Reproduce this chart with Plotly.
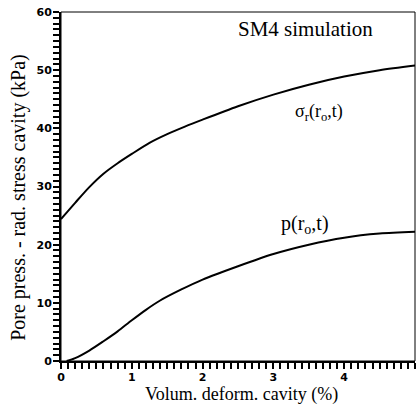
import plotly.graph_objects as go

# Data
x_sigma = [0.0, 0.2, 0.4, 0.6, 0.8, 1.0, 1.25, 1.5, 1.75, 2.0, 2.5, 3.0, 3.5, 4.0, 4.5, 5.0]
y_sigma = [24.4, 27.2, 29.9, 32.2, 34.0, 35.6, 37.5, 39.0, 40.3, 41.5, 43.8, 45.8, 47.5, 48.9, 50.0, 50.8]

x_p = [0.08, 0.2, 0.4, 0.6, 0.8, 1.0, 1.2, 1.4, 1.7, 2.0, 2.5, 3.0, 3.5, 4.0, 4.5, 5.0]
y_p = [0.0, 0.5, 1.8, 3.4, 5.1, 7.0, 8.8, 10.4, 12.3, 14.0, 16.3, 18.4, 20.0, 21.2, 21.9, 22.2]

x_ticks = [0, 1, 2, 3, 4, 5]
y_ticks = [0, 10, 20, 30, 40, 50, 60]

x_title = "Volum. deform. cavity (%)"
y_title = "Pore press. - rad. stress cavity (kPa)"
sim_label = "SM4 simulation"
sigma_label = "σ<sub>r</sub>(r<sub>o</sub>,t)"
p_label = "p(r<sub>o</sub>,t)"

serif = "Liberation Serif"

fig = go.Figure()
fig.add_trace(go.Scatter(x=x_sigma, y=y_sigma, mode="lines",
                         line=dict(color="black", width=2, shape="spline", smoothing=0.8), showlegend=False))
fig.add_trace(go.Scatter(x=x_p, y=y_p, mode="lines",
                         line=dict(color="black", width=2, shape="spline", smoothing=0.8), showlegend=False))

fig.add_annotation(x=3.45, y=57.1, text=sim_label, showarrow=False, font=dict(family=serif, size=21, color="black"))
fig.add_annotation(x=3.64, y=42.8, text=sigma_label, showarrow=False, font=dict(family=serif, size=18, color="black"))
fig.add_annotation(x=3.45, y=23.5, text=p_label, showarrow=False, font=dict(family=serif, size=20, color="black"))

# axis titles placed as paper annotations
fig.add_annotation(xref="paper", yref="paper", x=0.511, y=-0.097, xanchor="center", yanchor="middle",
                   text=x_title, showarrow=False, font=dict(family=serif, size=18, color="black"))
fig.add_annotation(xref="paper", yref="paper", x=-0.119, y=0.47, xanchor="center", yanchor="middle",
                   text=y_title, showarrow=False, textangle=-90, font=dict(family=serif, size=20, color="black"))

# thin frame on top/right
fig.add_shape(type="rect", xref="paper", yref="paper", x0=0, y0=0, x1=1, y1=1, line=dict(color="black", width=1))

tickfont = dict(family="DejaVu Sans", size=11, color="black")

fig.update_layout(
    width=417, height=406,
    margin=dict(l=61, r=2, t=12, b=45),
    plot_bgcolor="white", paper_bgcolor="white",
    font=dict(family=serif, color="black"),
    xaxis=dict(
        range=[0, 5], tickvals=x_ticks, ticktext=["<b>%d</b>" % v for v in x_ticks],
        showgrid=False, zeroline=False,
        showline=True, linecolor="black", linewidth=2,
        ticks="outside", ticklen=5, tickwidth=2, tickcolor="black",
        tickfont=tickfont,
        minor=dict(dtick=0.1, ticks="outside", ticklen=6, tickcolor="black"),
    ),
    yaxis=dict(
        range=[0, 60], tickvals=y_ticks, ticktext=["<b>%d</b>" % v for v in y_ticks],
        showgrid=False, zeroline=False,
        showline=True, linecolor="black", linewidth=2,
        ticks="outside", ticklen=5, tickwidth=2, tickcolor="black",
        tickfont=tickfont,
        minor=dict(dtick=1, ticks="outside", ticklen=6, tickcolor="black"),
    ),
)

fig.write_html("out.html")
